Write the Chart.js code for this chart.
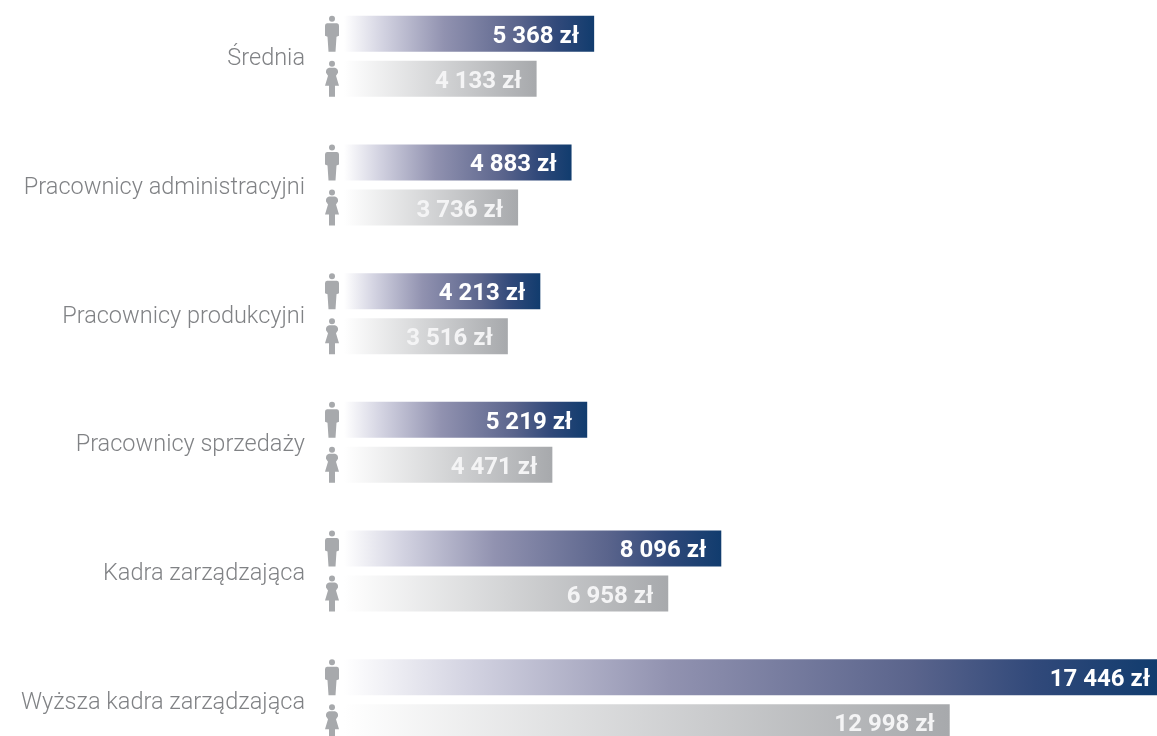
<!DOCTYPE html>
<html lang="pl">
<head>
<meta charset="utf-8">
<title>Wynagrodzenia</title>
<script src="https://cdn.jsdelivr.net/npm/chart.js@4"></script>
<style>
  html, body { margin: 0; width: 1157px; height: 736px; overflow: hidden; background: #fff; }
  #box { position: absolute; left: 0; top: -8px; width: 1157px; height: 772px; }
</style>
</head>
<body>
<div id="box"><canvas id="chart"></canvas></div>
<script>
// Data
const categories = ['Średnia', 'Pracownicy administracyjni', 'Pracownicy produkcyjni', 'Pracownicy sprzedaży', 'Kadra zarządzająca', 'Wyższa kadra zarządzająca'];
const men = [5368, 4883, 4213, 5219, 8096, 17446];
const women = [4133, 3736, 3516, 4471, 6958, 12998];

// Gradient runs from the axis to the end of each bar
function barGradient(stops) {
  return function (context) {
    const chart = context.chart;
    if (!chart.chartArea || context.raw === undefined) return stops[stops.length - 1][1];
    const x = chart.scales.x;
    const g = chart.ctx.createLinearGradient(x.getPixelForValue(0), 0, x.getPixelForValue(context.raw), 0);
    stops.forEach(s => g.addColorStop(s[0], s[1]));
    return g;
  };
}

function formatValue(v) {
  return String(v).replace(/\B(?=(\d{3})+$)/g, ' ') + ' zł';
}

// Man / woman silhouettes, relative to the middle of the bar
function drawMan(ctx, cx, cy) {
  ctx.beginPath();
  ctx.arc(cx, cy - 15, 3, 0, Math.PI * 2);
  ctx.fill();
  ctx.beginPath();
  ctx.moveTo(cx - 5, cy - 10.5);
  ctx.lineTo(cx + 5, cy - 10.5);
  ctx.quadraticCurveTo(cx + 7, cy - 10.5, cx + 7, cy - 8);
  ctx.lineTo(cx + 7, cy + 2);
  ctx.lineTo(cx + 4.5, cy + 3);
  ctx.lineTo(cx + 3.5, cy + 18);
  ctx.lineTo(cx - 3.5, cy + 18);
  ctx.lineTo(cx - 4.5, cy + 3);
  ctx.lineTo(cx - 7, cy + 2);
  ctx.lineTo(cx - 7, cy - 8);
  ctx.quadraticCurveTo(cx - 7, cy - 10.5, cx - 5, cy - 10.5);
  ctx.fill();
}

function drawWoman(ctx, cx, cy) {
  ctx.beginPath();
  ctx.arc(cx, cy - 15, 3, 0, Math.PI * 2);
  ctx.fill();
  ctx.beginPath();
  ctx.moveTo(cx - 3, cy - 11);
  ctx.lineTo(cx + 3, cy - 11);
  ctx.quadraticCurveTo(cx + 6.5, cy - 10, cx + 6, cy - 6);
  ctx.lineTo(cx + 4, cy - 3);
  ctx.lineTo(cx + 7, cy + 7);
  ctx.lineTo(cx + 3, cy + 7);
  ctx.lineTo(cx + 3, cy + 18);
  ctx.lineTo(cx - 3, cy + 18);
  ctx.lineTo(cx - 3, cy + 7);
  ctx.lineTo(cx - 7, cy + 7);
  ctx.lineTo(cx - 4, cy - 3);
  ctx.lineTo(cx - 6, cy - 6);
  ctx.quadraticCurveTo(cx - 6.5, cy - 10, cx - 3, cy - 11);
  ctx.fill();
}

const iconsAndValues = {
  id: 'iconsAndValues',
  afterDatasetsDraw(chart) {
    const ctx = chart.ctx;
    const area = chart.chartArea;
    const iconX = area.left - 12;
    chart.data.datasets.forEach((ds, i) => {
      chart.getDatasetMeta(i).data.forEach((bar, j) => {
        ctx.save();
        ctx.fillStyle = '#a7a9ac';
        if (i === 0) drawMan(ctx, iconX, bar.y);
        else drawWoman(ctx, iconX, bar.y);
        ctx.fillStyle = i === 0 ? '#ffffff' : '#f4f4f5';
        ctx.font = 'bold 24px Roboto';
        ctx.textAlign = 'right';
        ctx.textBaseline = 'middle';
        // the longest bar runs to the edge, so its label sits closer to the end
        const inset = bar.x >= area.right - 1 ? 7 : 15;
        ctx.fillText(formatValue(ds.data[j]), bar.x - inset, bar.y + 3);
        ctx.restore();
      });
    });
    // category labels, placed from the y scale
    const y = chart.scales.y;
    ctx.save();
    ctx.fillStyle = '#808285';
    ctx.font = '300 23.5px Roboto';
    ctx.textAlign = 'right';
    ctx.textBaseline = 'middle';
    chart.data.labels.forEach((label, j) => {
      ctx.fillText(label, area.left - 39, y.getPixelForTick(j) + 3);
    });
    ctx.restore();
  }
};

new Chart(document.getElementById('chart'), {
  type: 'bar',
  data: {
    labels: categories,
    datasets: [
      {
        label: 'Mężczyźni',
        data: men,
        backgroundColor: barGradient([[0, '#ffffff'], [0.15, '#d4d4e2'], [0.4, '#9192b0'], [0.7, '#5a648c'], [0.85, '#31497a'], [1, '#113c6e']])
      },
      {
        label: 'Kobiety',
        data: women,
        backgroundColor: barGradient([[0, '#ffffff'], [1, '#a7a9ac']])
      }
    ]
  },
  options: {
    indexAxis: 'y',
    responsive: true,
    maintainAspectRatio: false,
    animation: false,
    categoryPercentage: 0.7,
    barPercentage: 0.8,
    layout: { padding: 0 },
    plugins: {
      legend: { display: false },
      tooltip: { enabled: false }
    },
    scales: {
      x: {
        display: false,
        min: 0,
        max: 17446
      },
      y: {
        afterFit(scale) {
          scale.width = 344;
          scale.paddingTop = 0;
          scale.paddingBottom = 0;
        },
        border: { display: false },
        grid: { display: false, drawTicks: false },
        ticks: { display: false }
      }
    }
  },
  plugins: [iconsAndValues]
});
</script>
</body>
</html>
